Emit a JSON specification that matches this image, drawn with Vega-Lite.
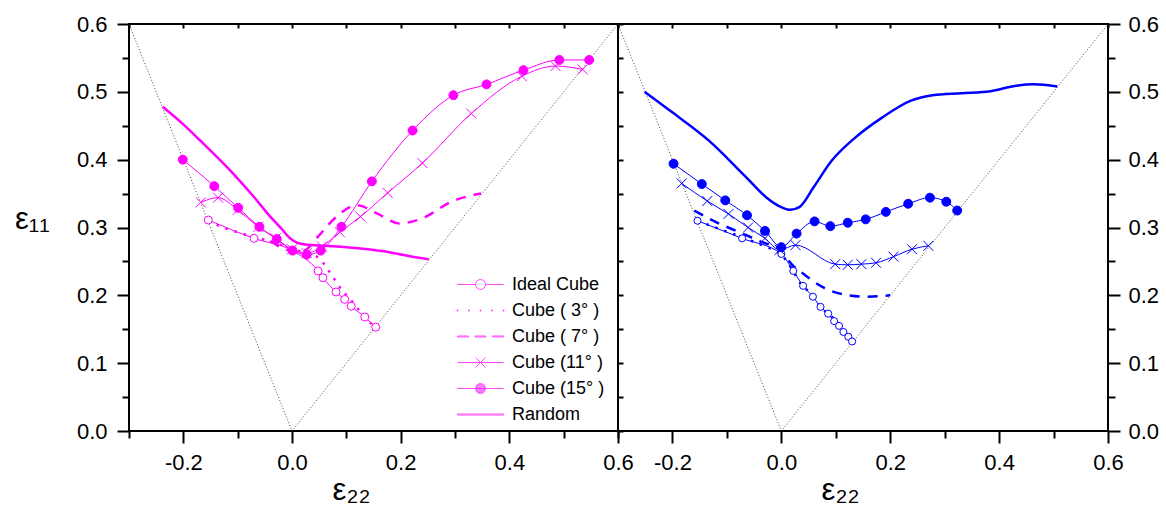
{
  "$schema": "https://vega.github.io/schema/vega-lite/v6.json",
  "background": "white",
  "padding": {"left": 13, "top": 12, "right": 5, "bottom": 5},
  "config": {
    "view": {"stroke": "black", "strokeWidth": 2},
    "axis": {
      "labelFont": "Liberation Sans", "labelFontSize": 22, "labelColor": "black",
      "tickColor": "black", "tickWidth": 2, "domain": false, "grid": false,
      "titleFont": "Liberation Sans", "titleFontWeight": "normal", "titleColor": "black",
      "labelFlush": false, "labelOverlap": false
    }
  },
  "datasets": {
    "bound": [{"x": -0.3, "y": 0.6}, {"x": 0, "y": 0}, {"x": 0.6, "y": 0.6}],
    "left": [
      {"s": "Ideal Cube", "x": -0.154, "y": 0.311}, {"s": "Ideal Cube", "x": -0.070, "y": 0.284}, {"s": "Ideal Cube", "x": 0.0, "y": 0.266},
      {"s": "Ideal Cube", "x": 0.048, "y": 0.236}, {"s": "Ideal Cube", "x": 0.057, "y": 0.226}, {"s": "Ideal Cube", "x": 0.081, "y": 0.205},
      {"s": "Ideal Cube", "x": 0.097, "y": 0.194}, {"s": "Ideal Cube", "x": 0.109, "y": 0.184}, {"s": "Ideal Cube", "x": 0.134, "y": 0.168},
      {"s": "Ideal Cube", "x": 0.154, "y": 0.153},
      {"s": "Cube ( 3° )", "x": -0.154, "y": 0.311}, {"s": "Cube ( 3° )", "x": -0.133, "y": 0.302}, {"s": "Cube ( 3° )", "x": -0.108, "y": 0.295},
      {"s": "Cube ( 3° )", "x": -0.083, "y": 0.289}, {"s": "Cube ( 3° )", "x": -0.060, "y": 0.284}, {"s": "Cube ( 3° )", "x": -0.038, "y": 0.279},
      {"s": "Cube ( 3° )", "x": -0.015, "y": 0.273}, {"s": "Cube ( 3° )", "x": 0.010, "y": 0.266}, {"s": "Cube ( 3° )", "x": 0.035, "y": 0.262},
      {"s": "Cube ( 3° )", "x": 0.054, "y": 0.251}, {"s": "Cube ( 3° )", "x": 0.072, "y": 0.231}, {"s": "Cube ( 3° )", "x": 0.088, "y": 0.212},
      {"s": "Cube ( 3° )", "x": 0.106, "y": 0.195}, {"s": "Cube ( 3° )", "x": 0.125, "y": 0.177}, {"s": "Cube ( 3° )", "x": 0.145, "y": 0.159},
      {"s": "Cube ( 3° )", "x": 0.154, "y": 0.153},
      {"s": "Cube ( 7° )", "x": -0.040, "y": 0.280}, {"s": "Cube ( 7° )", "x": 0.0, "y": 0.266}, {"s": "Cube ( 7° )", "x": 0.022, "y": 0.266},
      {"s": "Cube ( 7° )", "x": 0.045, "y": 0.284}, {"s": "Cube ( 7° )", "x": 0.082, "y": 0.316}, {"s": "Cube ( 7° )", "x": 0.120, "y": 0.333},
      {"s": "Cube ( 7° )", "x": 0.158, "y": 0.320}, {"s": "Cube ( 7° )", "x": 0.198, "y": 0.306}, {"s": "Cube ( 7° )", "x": 0.238, "y": 0.313},
      {"s": "Cube ( 7° )", "x": 0.296, "y": 0.339}, {"s": "Cube ( 7° )", "x": 0.348, "y": 0.350},
      {"s": "Cube (11° )", "x": -0.168, "y": 0.337}, {"s": "Cube (11° )", "x": -0.136, "y": 0.344}, {"s": "Cube (11° )", "x": -0.100, "y": 0.326},
      {"s": "Cube (11° )", "x": -0.062, "y": 0.301}, {"s": "Cube (11° )", "x": -0.030, "y": 0.284}, {"s": "Cube (11° )", "x": 0.0, "y": 0.268},
      {"s": "Cube (11° )", "x": 0.027, "y": 0.262}, {"s": "Cube (11° )", "x": 0.055, "y": 0.272}, {"s": "Cube (11° )", "x": 0.088, "y": 0.293},
      {"s": "Cube (11° )", "x": 0.126, "y": 0.316}, {"s": "Cube (11° )", "x": 0.176, "y": 0.351}, {"s": "Cube (11° )", "x": 0.240, "y": 0.395},
      {"s": "Cube (11° )", "x": 0.330, "y": 0.468}, {"s": "Cube (11° )", "x": 0.423, "y": 0.523}, {"s": "Cube (11° )", "x": 0.485, "y": 0.538},
      {"s": "Cube (11° )", "x": 0.535, "y": 0.533},
      {"s": "Cube (15° )", "x": -0.201, "y": 0.400}, {"s": "Cube (15° )", "x": -0.143, "y": 0.361}, {"s": "Cube (15° )", "x": -0.099, "y": 0.329},
      {"s": "Cube (15° )", "x": -0.060, "y": 0.301}, {"s": "Cube (15° )", "x": -0.028, "y": 0.283}, {"s": "Cube (15° )", "x": 0.001, "y": 0.266},
      {"s": "Cube (15° )", "x": 0.027, "y": 0.260}, {"s": "Cube (15° )", "x": 0.053, "y": 0.266}, {"s": "Cube (15° )", "x": 0.091, "y": 0.301},
      {"s": "Cube (15° )", "x": 0.147, "y": 0.368}, {"s": "Cube (15° )", "x": 0.222, "y": 0.443}, {"s": "Cube (15° )", "x": 0.297, "y": 0.495},
      {"s": "Cube (15° )", "x": 0.358, "y": 0.511}, {"s": "Cube (15° )", "x": 0.426, "y": 0.532}, {"s": "Cube (15° )", "x": 0.492, "y": 0.547},
      {"s": "Cube (15° )", "x": 0.547, "y": 0.547},
      {"s": "Random", "x": -0.238, "y": 0.478}, {"s": "Random", "x": -0.200, "y": 0.452}, {"s": "Random", "x": -0.170, "y": 0.429},
      {"s": "Random", "x": -0.110, "y": 0.381}, {"s": "Random", "x": -0.070, "y": 0.345}, {"s": "Random", "x": -0.040, "y": 0.316},
      {"s": "Random", "x": -0.019, "y": 0.298}, {"s": "Random", "x": -0.005, "y": 0.285}, {"s": "Random", "x": 0.008, "y": 0.278},
      {"s": "Random", "x": 0.024, "y": 0.275}, {"s": "Random", "x": 0.060, "y": 0.273}, {"s": "Random", "x": 0.100, "y": 0.271},
      {"s": "Random", "x": 0.140, "y": 0.268}, {"s": "Random", "x": 0.177, "y": 0.264}, {"s": "Random", "x": 0.215, "y": 0.258},
      {"s": "Random", "x": 0.252, "y": 0.253}
    ],
    "right": [
      {"s": "Ideal Cube", "x": -0.154, "y": 0.310}, {"s": "Ideal Cube", "x": -0.072, "y": 0.284}, {"s": "Ideal Cube", "x": 0.0, "y": 0.261},
      {"s": "Ideal Cube", "x": 0.022, "y": 0.236}, {"s": "Ideal Cube", "x": 0.040, "y": 0.214}, {"s": "Ideal Cube", "x": 0.058, "y": 0.198},
      {"s": "Ideal Cube", "x": 0.072, "y": 0.183}, {"s": "Ideal Cube", "x": 0.086, "y": 0.173}, {"s": "Ideal Cube", "x": 0.097, "y": 0.162},
      {"s": "Ideal Cube", "x": 0.106, "y": 0.155}, {"s": "Ideal Cube", "x": 0.114, "y": 0.146}, {"s": "Ideal Cube", "x": 0.123, "y": 0.139},
      {"s": "Ideal Cube", "x": 0.130, "y": 0.132},
      {"s": "Cube ( 3° )", "x": -0.154, "y": 0.310}, {"s": "Cube ( 3° )", "x": -0.111, "y": 0.297}, {"s": "Cube ( 3° )", "x": -0.070, "y": 0.285},
      {"s": "Cube ( 3° )", "x": -0.030, "y": 0.272}, {"s": "Cube ( 3° )", "x": 0.0, "y": 0.260}, {"s": "Cube ( 3° )", "x": 0.020, "y": 0.238},
      {"s": "Cube ( 3° )", "x": 0.034, "y": 0.219}, {"s": "Cube ( 3° )", "x": 0.057, "y": 0.200}, {"s": "Cube ( 3° )", "x": 0.072, "y": 0.183},
      {"s": "Cube ( 3° )", "x": 0.097, "y": 0.165}, {"s": "Cube ( 3° )", "x": 0.115, "y": 0.148}, {"s": "Cube ( 3° )", "x": 0.130, "y": 0.132},
      {"s": "Cube ( 7° )", "x": -0.160, "y": 0.325}, {"s": "Cube ( 7° )", "x": -0.120, "y": 0.308}, {"s": "Cube ( 7° )", "x": -0.080, "y": 0.294},
      {"s": "Cube ( 7° )", "x": -0.040, "y": 0.280}, {"s": "Cube ( 7° )", "x": 0.0, "y": 0.265}, {"s": "Cube ( 7° )", "x": 0.020, "y": 0.245},
      {"s": "Cube ( 7° )", "x": 0.040, "y": 0.232}, {"s": "Cube ( 7° )", "x": 0.076, "y": 0.212}, {"s": "Cube ( 7° )", "x": 0.117, "y": 0.201},
      {"s": "Cube ( 7° )", "x": 0.157, "y": 0.198}, {"s": "Cube ( 7° )", "x": 0.200, "y": 0.200},
      {"s": "Cube (11° )", "x": -0.183, "y": 0.365}, {"s": "Cube (11° )", "x": -0.136, "y": 0.339}, {"s": "Cube (11° )", "x": -0.097, "y": 0.320},
      {"s": "Cube (11° )", "x": -0.061, "y": 0.300}, {"s": "Cube (11° )", "x": -0.030, "y": 0.284}, {"s": "Cube (11° )", "x": -0.003, "y": 0.267},
      {"s": "Cube (11° )", "x": 0.026, "y": 0.274}, {"s": "Cube (11° )", "x": 0.099, "y": 0.246}, {"s": "Cube (11° )", "x": 0.122, "y": 0.245},
      {"s": "Cube (11° )", "x": 0.147, "y": 0.246}, {"s": "Cube (11° )", "x": 0.174, "y": 0.248}, {"s": "Cube (11° )", "x": 0.206, "y": 0.257},
      {"s": "Cube (11° )", "x": 0.240, "y": 0.268}, {"s": "Cube (11° )", "x": 0.270, "y": 0.273},
      {"s": "Cube (15° )", "x": -0.198, "y": 0.394}, {"s": "Cube (15° )", "x": -0.146, "y": 0.364}, {"s": "Cube (15° )", "x": -0.103, "y": 0.340},
      {"s": "Cube (15° )", "x": -0.063, "y": 0.318}, {"s": "Cube (15° )", "x": -0.030, "y": 0.295}, {"s": "Cube (15° )", "x": 0.0, "y": 0.271},
      {"s": "Cube (15° )", "x": 0.028, "y": 0.291}, {"s": "Cube (15° )", "x": 0.061, "y": 0.309}, {"s": "Cube (15° )", "x": 0.090, "y": 0.302},
      {"s": "Cube (15° )", "x": 0.122, "y": 0.307}, {"s": "Cube (15° )", "x": 0.155, "y": 0.312}, {"s": "Cube (15° )", "x": 0.192, "y": 0.323},
      {"s": "Cube (15° )", "x": 0.233, "y": 0.335}, {"s": "Cube (15° )", "x": 0.273, "y": 0.344}, {"s": "Cube (15° )", "x": 0.303, "y": 0.338},
      {"s": "Cube (15° )", "x": 0.323, "y": 0.325},
      {"s": "Random", "x": -0.251, "y": 0.500}, {"s": "Random", "x": -0.199, "y": 0.469}, {"s": "Random", "x": -0.133, "y": 0.428},
      {"s": "Random", "x": -0.067, "y": 0.376}, {"s": "Random", "x": -0.027, "y": 0.344}, {"s": "Random", "x": 0.0, "y": 0.330},
      {"s": "Random", "x": 0.016, "y": 0.326}, {"s": "Random", "x": 0.033, "y": 0.330}, {"s": "Random", "x": 0.059, "y": 0.359},
      {"s": "Random", "x": 0.092, "y": 0.398}, {"s": "Random", "x": 0.132, "y": 0.430}, {"s": "Random", "x": 0.185, "y": 0.462},
      {"s": "Random", "x": 0.238, "y": 0.487}, {"s": "Random", "x": 0.278, "y": 0.495}, {"s": "Random", "x": 0.331, "y": 0.498},
      {"s": "Random", "x": 0.384, "y": 0.501}, {"s": "Random", "x": 0.431, "y": 0.509}, {"s": "Random", "x": 0.464, "y": 0.511},
      {"s": "Random", "x": 0.507, "y": 0.508}
    ]
  },
  "spacing": 0,
  "bounds": "flush",
  "resolve": {
    "scale": {"shape": "independent"},
    "legend": {"shape": "independent"}
  },
  "hconcat": [
    {
      "width": 489, "height": 407,
      "resolve": {"axis": {"x": "independent", "y": "independent"}},
      "layer": [
        {
          "data": {"name": "bound"},
          "mark": {"type": "line", "color": "#333333", "strokeWidth": 0.9, "strokeDash": [1, 2]},
          "encoding": {
            "x": {"field": "x", "type": "quantitative", "scale": {"domain": [-0.3, 0.6], "nice": false, "zero": false},
              "axis": {"orient": "bottom", "values": [-0.2, 0, 0.2, 0.4, 0.6],
                "labelExpr": "replace(format(datum.value,'.1f'),'−','-')",
                "tickSize": 12, "labelPadding": 9,
                "title": "ε₂₂", "titleFontSize": 31, "titleX": 222, "titleY": 68, "titleAlign": "center", "titleBaseline": "alphabetic"}},
            "y": {"field": "y", "type": "quantitative", "scale": {"domain": [0, 0.6], "nice": false, "zero": false},
              "axis": {"orient": "left", "values": [0, 0.1, 0.2, 0.3, 0.4, 0.5, 0.6],
                "labelExpr": "format(datum.value,'.1f')",
                "tickSize": 12, "labelPadding": 10,
                "title": "ε₁₁", "titleFontSize": 31, "titleAngle": 0, "titleAlign": "left", "titleBaseline": "alphabetic", "titleX": -114.6, "titleY": 204}}
          }
        },
        {
          "data": {"name": "left"},
          "transform": [{"filter": {"field": "s", "oneOf": ["Ideal Cube", "Cube (11° )", "Cube (15° )"]}}],
          "mark": {"type": "line", "interpolate": "monotone", "color": "#ff00ff", "strokeWidth": 1},
          "encoding": {
            "x": {"field": "x", "type": "quantitative",
              "axis": {"orient": "bottom", "values": [-0.3, -0.1, 0.1, 0.3, 0.5], "labels": false, "title": null, "tickSize": 7}},
            "y": {"field": "y", "type": "quantitative",
              "axis": {"orient": "left", "values": [0.05, 0.15, 0.25, 0.35, 0.45, 0.55], "labels": false, "title": null, "tickSize": 7}},
            "detail": {"field": "s", "type": "nominal"}
          }
        },
        {
          "data": {"name": "left"},
          "transform": [{"filter": {"field": "s", "equal": "Cube ( 3° )"}}],
          "mark": {"type": "line", "interpolate": "monotone", "color": "#ff00ff", "strokeWidth": 2.5, "strokeDash": [2.5, 7]},
          "encoding": {
            "x": {"field": "x", "type": "quantitative",
              "axis": {"orient": "top", "values": [-0.3, -0.2, -0.1, 0, 0.1, 0.2, 0.3, 0.4, 0.5, 0.6], "labels": false, "title": null, "tickSize": 4, "offset": -4}},
            "y": {"field": "y", "type": "quantitative", "axis": null}
          }
        },
        {
          "data": {"name": "left"},
          "transform": [{"filter": {"field": "s", "equal": "Cube ( 7° )"}}],
          "mark": {"type": "line", "interpolate": "monotone", "color": "#ff00ff", "strokeWidth": 2.5, "strokeDash": [10, 8]},
          "encoding": {
            "x": {"field": "x", "type": "quantitative", "axis": null},
            "y": {"field": "y", "type": "quantitative", "axis": null}
          }
        },
        {
          "data": {"name": "left"},
          "transform": [{"filter": {"field": "s", "equal": "Random"}}],
          "mark": {"type": "line", "interpolate": "monotone", "color": "#ff00ff", "strokeWidth": 2.5},
          "encoding": {
            "x": {"field": "x", "type": "quantitative", "axis": null},
            "y": {"field": "y", "type": "quantitative", "axis": null}
          }
        },
        {
          "data": {"name": "left"},
          "transform": [{"filter": {"field": "s", "equal": "Ideal Cube"}}],
          "mark": {"type": "point", "shape": "circle", "size": 64, "filled": true, "fill": "white", "stroke": "#ff00ff", "strokeWidth": 1, "opacity": 1},
          "encoding": {
            "x": {"field": "x", "type": "quantitative", "axis": null},
            "y": {"field": "y", "type": "quantitative", "axis": null}
          }
        },
        {
          "data": {"name": "left"},
          "transform": [{"filter": {"field": "s", "equal": "Cube (11° )"}}],
          "mark": {"type": "point", "shape": "M-1,-1L1,1M-1,1L1,-1", "size": 100, "filled": false, "stroke": "#ff00ff", "strokeWidth": 1, "opacity": 1},
          "encoding": {
            "x": {"field": "x", "type": "quantitative", "axis": null},
            "y": {"field": "y", "type": "quantitative", "axis": null}
          }
        },
        {
          "data": {"name": "left"},
          "transform": [{"filter": {"field": "s", "equal": "Cube (15° )"}}],
          "mark": {"type": "point", "shape": "circle", "size": 80, "filled": true, "fill": "#ff00ff", "stroke": "#ff00ff", "strokeWidth": 1, "opacity": 1},
          "encoding": {
            "x": {"field": "x", "type": "quantitative", "axis": null},
            "y": {"field": "y", "type": "quantitative", "axis": null}
          }
        },
        {
          "data": {"name": "left"},
          "transform": [{"filter": "datum.x > 10"}],
          "mark": {"type": "point", "filled": false, "color": "#ff00ff", "strokeWidth": 1},
          "encoding": {
            "x": {"field": "x", "type": "quantitative", "axis": null},
            "y": {"field": "y", "type": "quantitative", "axis": null},
            "shape": {"field": "s", "type": "nominal",
              "scale": {"domain": ["Ideal Cube", "Cube ( 3° )", "Cube ( 7° )", "Cube (11° )", "Cube (15° )", "Random"],
                "range": [
                  "M-2.3,0H-0.5M0.5,0H2.3M0.5,0A0.5,0.5,0,1,1,-0.5,0A0.5,0.5,0,1,1,0.5,0",
                  "M-2.35,-0.05h0.1v0.1h-0.1zM-1.2,-0.05h0.1v0.1h-0.1zM-0.05,-0.05h0.1v0.1h-0.1zM1.1,-0.05h0.1v0.1h-0.1zM2.25,-0.05h0.1v0.1h-0.1z",
                  "M-2.3,-0.05H-1.2V0.05H-2.3ZM-0.55,-0.05H0.55V0.05H-0.55ZM1.2,-0.05H2.3V0.05H1.2Z",
                  "M-2.3,0H2.3M-0.5,-0.5L0.5,0.5M-0.5,0.5L0.5,-0.5",
                  "M-2.3,0H2.3M0.5,0A0.5,0.5,0,1,1,-0.5,0A0.5,0.5,0,1,1,0.5,0M0.42,0A0.42,0.42,0,1,1,-0.42,0A0.42,0.42,0,1,1,0.42,0M0.34,0A0.34,0.34,0,1,1,-0.34,0A0.34,0.34,0,1,1,0.34,0M0.26,0A0.26,0.26,0,1,1,-0.26,0A0.26,0.26,0,1,1,0.26,0M0.18,0A0.18,0.18,0,1,1,-0.18,0A0.18,0.18,0,1,1,0.18,0M0.1,0A0.1,0.1,0,1,1,-0.1,0A0.1,0.1,0,1,1,0.1,0M0.03,0A0.03,0.03,0,1,1,-0.03,0A0.03,0.03,0,1,1,0.03,0",
                  "M-2.3,-0.05H2.3V0.05H-2.3Z"
                ]},
              "legend": {"orient": "none", "legendX": 341, "legendY": 250, "title": null, "padding": 0,
                "symbolSize": 400, "symbolStrokeWidth": 1, "symbolStrokeColor": "#ff00ff", "symbolFillColor": "transparent",
                "labelFont": "Liberation Sans", "labelFontSize": 18, "labelColor": "black",
                "labelOffset": 21, "rowPadding": 6}}
          }
        }
      ]
    },
    {
      "width": 490, "height": 407,
      "resolve": {"axis": {"x": "independent", "y": "independent"}},
      "layer": [
        {
          "data": {"name": "bound"},
          "mark": {"type": "line", "color": "#333333", "strokeWidth": 0.9, "strokeDash": [1, 2]},
          "encoding": {
            "x": {"field": "x", "type": "quantitative", "scale": {"domain": [-0.3, 0.6], "nice": false, "zero": false},
              "axis": {"orient": "bottom", "values": [-0.2, 0, 0.2, 0.4, 0.6],
                "labelExpr": "replace(format(datum.value,'.1f'),'−','-')",
                "tickSize": 12, "labelPadding": 9,
                "title": "ε₂₂", "titleFontSize": 31, "titleX": 222, "titleY": 68, "titleAlign": "center", "titleBaseline": "alphabetic"}},
            "y": {"field": "y", "type": "quantitative", "scale": {"domain": [0, 0.6], "nice": false, "zero": false},
              "axis": {"orient": "left", "values": [0, 0.05, 0.1, 0.15, 0.2, 0.25, 0.3, 0.35, 0.4, 0.45, 0.5, 0.55, 0.6],
                "labels": false, "title": null, "tickSize": 5, "offset": -5}}
          }
        },
        {
          "data": {"name": "right"},
          "transform": [{"filter": {"field": "s", "oneOf": ["Ideal Cube", "Cube (11° )", "Cube (15° )"]}}],
          "mark": {"type": "line", "interpolate": "monotone", "color": "#0000ff", "strokeWidth": 1},
          "encoding": {
            "x": {"field": "x", "type": "quantitative",
              "axis": {"orient": "bottom", "values": [-0.3, -0.1, 0.1, 0.3, 0.5], "labels": false, "title": null, "tickSize": 7}},
            "y": {"field": "y", "type": "quantitative",
              "axis": {"orient": "right", "values": [0, 0.1, 0.2, 0.3, 0.4, 0.5, 0.6],
                "labelExpr": "format(datum.value,'.1f')",
                "tickSize": 12, "labelPadding": 8, "title": null}},
            "detail": {"field": "s", "type": "nominal"}
          }
        },
        {
          "data": {"name": "right"},
          "transform": [{"filter": {"field": "s", "equal": "Cube ( 3° )"}}],
          "mark": {"type": "line", "interpolate": "monotone", "color": "#0000ff", "strokeWidth": 2.5, "strokeDash": [2.5, 7]},
          "encoding": {
            "x": {"field": "x", "type": "quantitative",
              "axis": {"orient": "top", "values": [-0.3, -0.2, -0.1, 0, 0.1, 0.2, 0.3, 0.4, 0.5, 0.6], "labels": false, "title": null, "tickSize": 4, "offset": -4}},
            "y": {"field": "y", "type": "quantitative",
              "axis": {"orient": "right", "values": [0.05, 0.15, 0.25, 0.35, 0.45, 0.55], "labels": false, "title": null, "tickSize": 7}}
          }
        },
        {
          "data": {"name": "right"},
          "transform": [{"filter": {"field": "s", "equal": "Cube ( 7° )"}}],
          "mark": {"type": "line", "interpolate": "monotone", "color": "#0000ff", "strokeWidth": 2.5, "strokeDash": [10, 8]},
          "encoding": {
            "x": {"field": "x", "type": "quantitative", "axis": null},
            "y": {"field": "y", "type": "quantitative", "axis": null}
          }
        },
        {
          "data": {"name": "right"},
          "transform": [{"filter": {"field": "s", "equal": "Random"}}],
          "mark": {"type": "line", "interpolate": "monotone", "color": "#0000ff", "strokeWidth": 2.5},
          "encoding": {
            "x": {"field": "x", "type": "quantitative", "axis": null},
            "y": {"field": "y", "type": "quantitative", "axis": null}
          }
        },
        {
          "data": {"name": "right"},
          "transform": [{"filter": {"field": "s", "equal": "Ideal Cube"}}],
          "mark": {"type": "point", "shape": "circle", "size": 50, "filled": true, "fill": "white", "stroke": "#0000ff", "strokeWidth": 1, "opacity": 1},
          "encoding": {
            "x": {"field": "x", "type": "quantitative", "axis": null},
            "y": {"field": "y", "type": "quantitative", "axis": null}
          }
        },
        {
          "data": {"name": "right"},
          "transform": [{"filter": {"field": "s", "equal": "Cube (11° )"}}],
          "mark": {"type": "point", "shape": "M-1,-1L1,1M-1,1L1,-1", "size": 100, "filled": false, "stroke": "#0000ff", "strokeWidth": 1, "opacity": 1},
          "encoding": {
            "x": {"field": "x", "type": "quantitative", "axis": null},
            "y": {"field": "y", "type": "quantitative", "axis": null}
          }
        },
        {
          "data": {"name": "right"},
          "transform": [{"filter": {"field": "s", "equal": "Cube (15° )"}}],
          "mark": {"type": "point", "shape": "circle", "size": 80, "filled": true, "fill": "#0000ff", "stroke": "#0000ff", "strokeWidth": 1, "opacity": 1},
          "encoding": {
            "x": {"field": "x", "type": "quantitative", "axis": null},
            "y": {"field": "y", "type": "quantitative", "axis": null}
          }
        }
      ]
    }
  ]
}
